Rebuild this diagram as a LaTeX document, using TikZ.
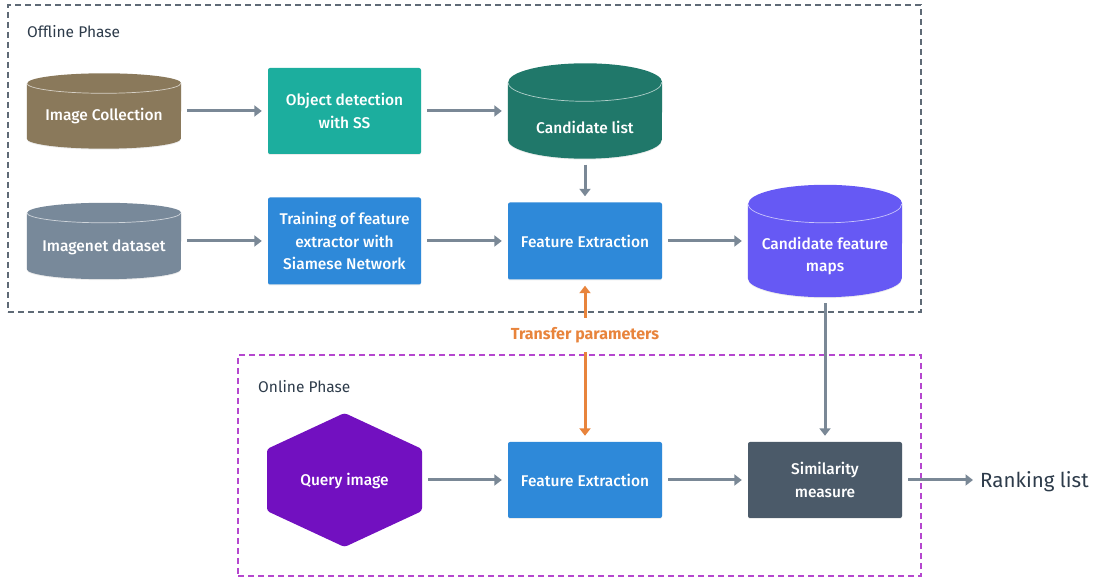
\documentclass[tikz,border=0pt]{standalone}
\usepackage{fontspec}
\setmainfont{Fira Sans}[BoldFont={Fira Sans Medium}]
\newfontfamily\heavyfont{Fira Sans Bold}
\usetikzlibrary{arrows.meta,calc,shadows}

\definecolor{inktext}{HTML}{2D3B4A}
\definecolor{flowgray}{HTML}{7A8896}
\definecolor{xferorange}{HTML}{E8843C}
\definecolor{offdash}{HTML}{5E6A76}
\definecolor{ondash}{HTML}{B547CF}
\definecolor{collbrown}{HTML}{8A795B}
\definecolor{detteal}{HTML}{1CAE9E}
\definecolor{listgreen}{HTML}{20786A}
\definecolor{netgray}{HTML}{78899A}
\definecolor{procblue}{HTML}{2E89D9}
\definecolor{mapviolet}{HTML}{6659F4}
\definecolor{querypurple}{HTML}{7210C0}
\definecolor{simslate}{HTML}{4B5A69}

\tikzset{
  nodefont/.style={font=\bfseries\fontsize{15.5}{22.5}\selectfont},
  procbox/.style={rectangle, rounded corners=2pt, text=white, nodefont, align=center,
    inner sep=0pt, minimum width=154pt, drop shadow={shadow xshift=0pt, shadow yshift=-1pt, opacity=.15}},
  drumframe/.style={rectangle, inner sep=0pt, minimum width=154pt},
  drumtext/.style={text=white, nodefont, align=center, inner sep=0pt},
  phasebox/.style={rectangle, line width=1.2pt, dash pattern=on 6pt off 4pt, inner sep=0pt},
  phaselabel/.style={anchor=west, inner sep=0pt, text=inktext, font=\fontsize{15.5}{18}\selectfont},
  flow/.style={draw=flowgray, line width=3pt, -{Triangle[length=7.5pt,width=11pt]},
    shorten >=6pt, shorten <=6pt},
  xfer/.style={draw=xferorange, line width=3pt, -{Triangle[length=7.5pt,width=11pt]},
    shorten >=6pt},
}

% database drum drawn round a named frame node: #1 node, #2 colour, #3 cap half-height
\newcommand\drumbody[3]{%
  \fill[#2, drop shadow={shadow xshift=0pt, shadow yshift=-1pt, opacity=.15}]
    ([yshift=-#3]#1.north west) -- ([yshift=#3]#1.south west)
    arc[start angle=180, end angle=360, x radius=77pt, y radius=#3]
    -- ([yshift=-#3]#1.north east)
    arc[start angle=0, end angle=180, x radius=77pt, y radius=#3] -- cycle;
  \draw[white, opacity=.65, line width=.7pt]
    ([yshift=-#3]#1.north west)
    arc[start angle=180, end angle=360, x radius=77pt, y radius=#3];
}

\begin{document}
\begin{tikzpicture}[x=1pt, y=1pt]
\useasboundingbox (0,0) rectangle (1097,578);

% phase regions
\node[phasebox, draw=offdash, minimum width=913pt, minimum height=307pt] (offline) at (464.5,419.5) {};
\node[phasebox, draw=ondash, minimum width=683pt, minimum height=221pt] (online) at (579.5,112.5) {};
\node[phaselabel] (offlbl) at (27,546) {Offline Phase};
\node[phaselabel] (onlbl) at (258,191) {Online Phase};

% offline phase, first row
\node[drumframe, minimum height=75pt] (imgcol) at (104,467) {};
\drumbody{imgcol}{collbrown}{10pt}
\node[drumtext] (imgcoltxt) at ([yshift=-5pt]imgcol.center) {Image Collection};

\node[procbox, fill=detteal, minimum width=153pt, minimum height=86pt] (objdet) at (344.5,467) {Object detection\\with SS};

\node[drumframe, minimum height=95pt] (candlist) at (585,467) {};
\drumbody{candlist}{listgreen}{19pt}
\node[drumtext] (candlisttxt) at ([yshift=-16pt]candlist.center) {Candidate list};

% offline phase, second row
\node[drumframe, minimum height=76pt] (imgnet) at (104,337) {};
\drumbody{imgnet}{netgray}{10pt}
\node[drumtext] (imgnettxt) at ([yshift=-6pt]imgnet.center) {Imagenet dataset};

\node[procbox, fill=procblue, minimum width=153pt, minimum height=87pt] (train) at (344.5,337) {Training of feature\\extractor with\\Siamese Network};

\node[procbox, fill=procblue, minimum height=77pt] (feoff) at (585,337) {Feature Extraction};

\node[drumframe, minimum height=112pt] (cfm) at (825,337) {};
\drumbody{cfm}{mapviolet}{19pt}
\node[drumtext] (cfmtxt) at ([yshift=-15pt]cfm.center) {Candidate feature\\maps};

% online phase
\node[rectangle, inner sep=0pt, minimum width=155pt, minimum height=134pt] (query) at (344.5,98) {};
\fill[querypurple, rounded corners=3pt]
  ([yshift=67pt]query.center) -- ++(77.5,-36) -- ++(0,-62) -- ++(-77.5,-36)
  -- ++(-77.5,36) -- ++(0,62) -- cycle;
\node[drumtext] (querytxt) at ([yshift=-1pt]query.center) {Query image};

\node[procbox, fill=procblue, minimum height=76pt] (feon) at (585,98) {Feature Extraction};
\node[procbox, fill=simslate, minimum height=76pt] (sim) at (825,98) {Similarity\\measure};
\node[anchor=west, inner sep=0pt, text=inktext, font=\fontsize{20.5}{24}\selectfont] (rank) at (980,96) {Ranking list};

% shared parameters
\node[inner sep=0pt, minimum height=34pt, text=xferorange, font=\heavyfont\fontsize{16}{19}\selectfont] (xferlbl) at (585,243) {Transfer parameters};

% connectors
\draw[flow] (imgcol) -- (objdet);
\draw[flow] (objdet) -- (candlist);
\draw[flow] (candlist) -- (feoff);
\draw[flow] (imgnet) -- (train);
\draw[flow] (train) -- (feoff);
\draw[flow] (feoff) -- (cfm);
\draw[flow] (cfm) -- (sim);
\draw[flow] (query.east) -- (feon);
\draw[flow] (feon) -- (sim);
\draw[flow, shorten >=7pt] (sim.east) -- (sim.east -| rank.west);
\draw[xfer] (xferlbl.north) -- (feoff.south);
\draw[xfer] (xferlbl.south) -- (feon.north);
\end{tikzpicture}
\end{document}
